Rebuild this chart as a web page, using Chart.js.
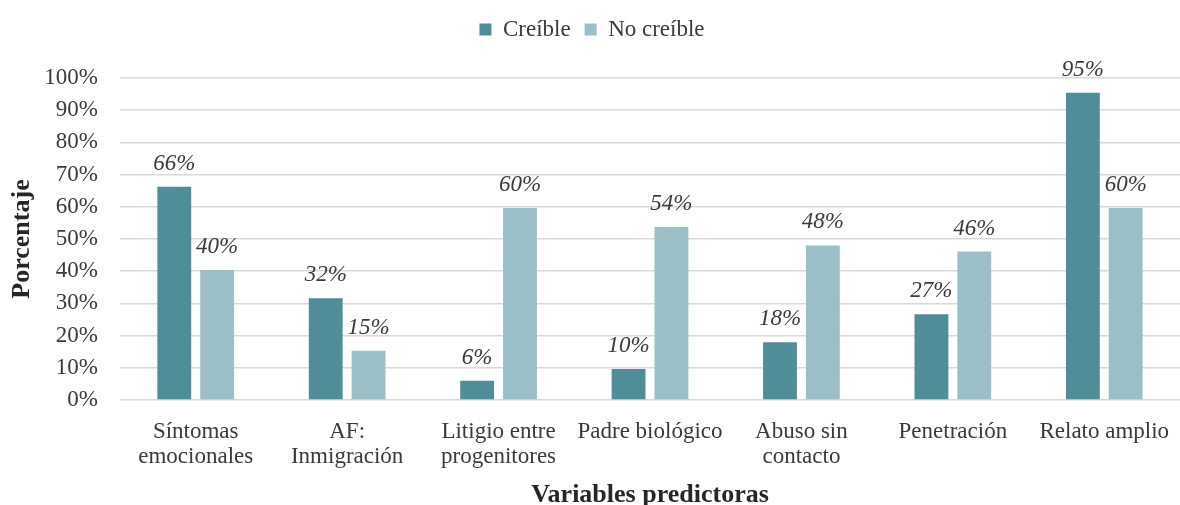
<!DOCTYPE html>
<html>
<head>
<meta charset="utf-8">
<script src="https://cdn.jsdelivr.net/npm/chart.js@4/dist/chart.umd.min.js"></script>
<style>
  html, body { margin: 0; padding: 0; background: #fff; }
  #wrap { width: 1180px; height: 505px; }
</style>
</head>
<body>
<div id="wrap"><canvas id="chart"></canvas></div>
<script>
// datos
const categories = [
  ["Síntomas", "emocionales"],
  ["AF:", "Inmigración"],
  ["Litigio entre", "progenitores"],
  "Padre biológico",
  ["Abuso sin", "contacto"],
  "Penetración",
  "Relato amplio"
];
const seriesNames = ["Creíble", "No creíble"];
const creible = [66.2, 31.6, 6.0, 9.6, 17.9, 26.6, 95.4];
const noCreible = [40.4, 15.3, 59.6, 53.7, 48.0, 46.1, 59.6];
const yTicks = [0, 10, 20, 30, 40, 50, 60, 70, 80, 90, 100];

const FONT = "'Liberation Serif', 'Times New Roman', serif";
const TEXT = "#3a3a3a";

// etiquetas encima de cada barra
const barLabels = {
  id: "barLabels",
  afterDatasetsDraw(chart) {
    const ctx = chart.ctx;
    ctx.save();
    ctx.font = "italic 23px " + FONT;
    ctx.fillStyle = TEXT;
    ctx.textAlign = "center";
    ctx.textBaseline = "middle";
    chart.data.datasets.forEach((ds, i) => {
      chart.getDatasetMeta(i).data.forEach((bar, j) => {
        ctx.fillText(Math.round(ds.data[j]) + "%", bar.x, bar.y - 23);
      });
    });
    ctx.restore();
  }
};

// espacio extra debajo de la leyenda
const legendGap = {
  id: "legendGap",
  beforeInit(chart) {
    const fit = chart.legend.fit;
    chart.legend.fit = function () {
      fit.bind(chart.legend)();
      this.height += 27;
    };
  }
};

new Chart(document.getElementById("chart"), {
  type: "bar",
  data: {
    labels: categories,
    datasets: [
      { label: seriesNames[0], data: creible, backgroundColor: "#4f8e98" },
      { label: seriesNames[1], data: noCreible, backgroundColor: "#9abfc6" }
    ]
  },
  options: {
    responsive: true,
    maintainAspectRatio: false,
    animation: false,
    layout: { padding: { top: 4, right: -4, left: 0, bottom: 0 } },
    datasets: { bar: { categoryPercentage: 0.566, barPercentage: 0.79 } },
    plugins: {
      legend: {
        position: "top",
        labels: {
          boxWidth: 12,
          boxHeight: 12,
          padding: 14,
          color: TEXT,
          font: { family: FONT, size: 23 }
        }
      },
      tooltip: { enabled: false }
    },
    scales: {
      x: {
        grid: { display: false, drawTicks: false },
        border: { display: false },
        ticks: {
          color: TEXT,
          padding: 19,
          maxRotation: 0,
          autoSkip: false,
          font: { family: FONT, size: 23, lineHeight: 1.1 }
        },
        title: {
          display: true,
          text: "Variables predictoras",
          color: "#262626",
          padding: { top: 0, bottom: -3 },
          font: { family: FONT, size: 26, weight: "bold", lineHeight: 1.0 }
        },
        afterFit(scale) {
          scale.height = 105;
          scale.paddingRight = 0;
          scale.paddingLeft = 0;
        }
      },
      y: {
        min: 0,
        max: 100,
        afterBuildTicks(scale) { scale.ticks = yTicks.map(v => ({ value: v })); },
        grid: { color: "#d9d9d9", lineWidth: 1.5, drawTicks: false },
        border: { display: false },
        ticks: {
          color: TEXT,
          padding: 22,
          font: { family: FONT, size: 23 },
          callback: v => v + "%"
        },
        title: {
          display: true,
          text: "Porcentaje",
          color: "#262626",
          padding: { top: 7, bottom: 0 },
          font: { family: FONT, size: 26, weight: "bold" }
        },
        afterFit(scale) { scale.width = 120; }
      }
    }
  },
  plugins: [barLabels, legendGap]
});
</script>
</body>
</html>
